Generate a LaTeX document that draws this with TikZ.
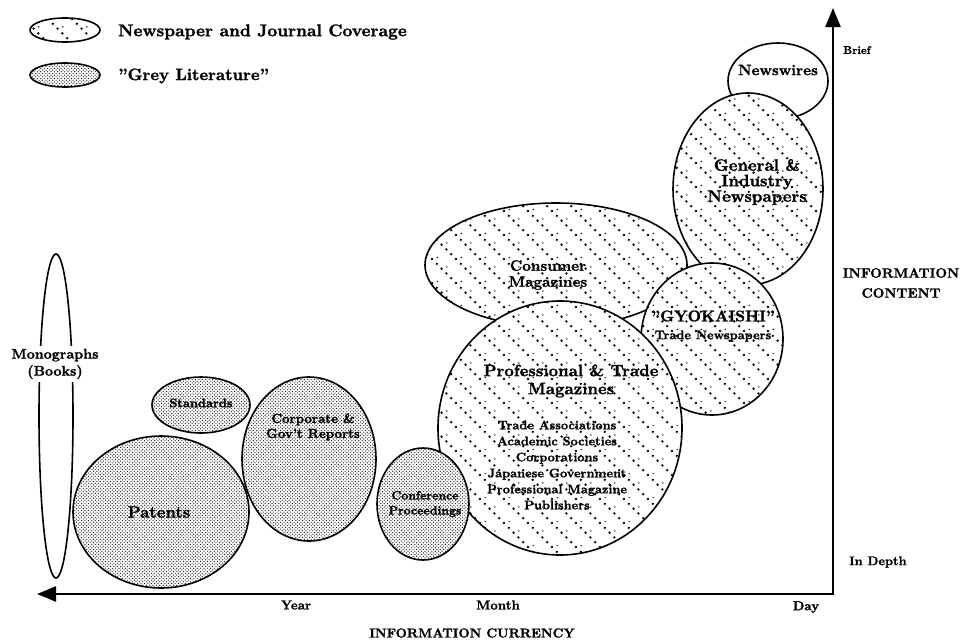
\documentclass[tikz,border=0pt]{standalone}
\usepackage{fontspec}
\setmainfont{lmroman10-regular.otf}[BoldFont=lmroman10-bold.otf, BoldFeatures={FakeBold=1.3}]
\usetikzlibrary{shapes.geometric,patterns,arrows.meta}

\pgfdeclarepatternformonly{newsdots}{\pgfqpoint{-2pt}{-2pt}}{\pgfqpoint{26pt}{26pt}}{\pgfqpoint{24pt}{24pt}}{%
  \foreach \k in {0,...,4}{%
    \pgfpathcircle{\pgfpoint{4.8*\k pt}{24pt-4.8*\k pt}}{1.3pt}%
  }%
  \foreach \k in {0,2}{%
    \pgfpathcircle{\pgfpoint{4.8*\k pt+5.2pt}{24pt-4.8*\k pt+1.6pt}}{0.8pt}%
  }%
  \pgfusepath{fill}}
\pgfdeclarepatternformonly{greydots}{\pgfqpoint{-1pt}{-1pt}}{\pgfqpoint{4.4pt}{4.4pt}}{\pgfqpoint{3.4pt}{3.4pt}}{%
  \pgfpathcircle{\pgfqpoint{0pt}{0pt}}{0.6pt}%
  \pgfpathcircle{\pgfqpoint{1.7pt}{1.7pt}}{0.6pt}%
  \pgfusepath{fill}}

\begin{document}
\begin{tikzpicture}[x=1pt, y=-1pt, >={Triangle[length=19pt,width=15pt]},
   blob/.style={ellipse, draw, line width=1.6pt, inner sep=0pt},
   news/.style={blob, pattern=newsdots, preaction={fill=white}},
   grey/.style={blob, pattern=greydots, preaction={fill=white}},
   plain/.style={blob, fill=white},
   txt/.style={font=\bfseries, align=center, inner sep=1pt}]
   \useasboundingbox (0,0) rectangle (965,643);
   \node[news, minimum width=70, minimum height=24] (key_news) at (65,30) {};
   \node[grey, minimum width=70, minimum height=24] (key_grey) at (65,75) {};
   \node[txt, anchor=west, font=\bfseries\fontsize{17}{19}\selectfont] (key_news_txt) at (117,32) {Newspaper and Journal Coverage};
   \node[txt, anchor=west, font=\bfseries\fontsize{16.5}{19}\selectfont] (key_grey_txt) at (117,76) {"Grey Literature"};

   \node[plain, minimum width=34, minimum height=324] (mono) at (56,416) {};
   \node[txt, fill=white, inner sep=3pt, font=\bfseries\fontsize{14}{17}\selectfont] (mono_txt) at (55,364) {Monographs\\(Books)};

   \node[plain, minimum width=100, minimum height=76] (wires) at (778,81) {};
   \node[news, minimum width=150, minimum height=192] (general) at (748,189) {};
   \node[news, minimum width=262, minimum height=124] (consumer) at (556,265) {};
   \node[news, minimum width=142, minimum height=152] (gyokaishi) at (712,339) {};
   \node[news, minimum width=244, minimum height=254] (prof) at (560,428) {};

   \node[grey, minimum width=98, minimum height=56] (standards) at (201,405) {};
   \node[grey, minimum width=176, minimum height=152] (patents) at (161,512) {};
   \node[grey, minimum width=134, minimum height=164] (corporate) at (309,459) {};
   \node[grey, minimum width=92, minimum height=112] (conference) at (423,504) {};

   \node[txt, font=\bfseries\fontsize{15}{16}\selectfont] (wires_txt) at (778,70) {Newswires};
   \node[txt, font=\bfseries\fontsize{16.5}{15.5}\selectfont] (general_txt) at (757,182) {General \&\\Industry\\Newspapers};
   \node[txt, font=\bfseries\fontsize{15}{16}\selectfont] (consumer_txt) at (548,275) {Consumer\\Magazines};
   \node[txt, font=\bfseries\fontsize{15.5}{16}\selectfont] (gyokaishi_txt) at (713,316) {"GYOKAISHI"};
   \node[txt, font=\bfseries\fontsize{12.5}{14}\selectfont] (gyokaishi_sub) at (713,336) {Trade Newspapers};
   \node[txt, font=\bfseries\fontsize{16.5}{18}\selectfont] (prof_txt) at (571,381) {Professional \& Trade\\Magazines};
   \node[txt, font=\bfseries\fontsize{12.5}{16}\selectfont] (prof_list) at (557,465) {Trade Associations\\Academic Societies\\Corporations\\Japanese Government\\Professional Magazine\\Publishers};
   \node[txt, font=\bfseries\fontsize{12.5}{15}\selectfont] (standards_txt) at (201,403) {Standards};
   \node[txt, font=\bfseries\fontsize{16.5}{17}\selectfont] (patents_txt) at (159,512) {Patents};
   \node[txt, font=\bfseries\fontsize{13}{15}\selectfont] (corporate_txt) at (313,427) {Corporate \&\\Gov't Reports};
   \node[txt, font=\bfseries\fontsize{12}{15}\selectfont] (conference_txt) at (425,504) {Conference\\Proceedings};

   \coordinate (origin) at (833,594);
   \coordinate (x_end) at (37,594);
   \coordinate (y_end) at (833,8);
   \draw[<->, line width=2.5pt] (x_end) -- (origin) -- (y_end);

   \node[txt, anchor=west, font=\bfseries\fontsize{11}{13}\selectfont] (brief) at (842,50) {Brief};
   \node[txt, anchor=west, font=\bfseries\fontsize{12.5}{14}\selectfont] (depth) at (848,562) {In Depth};
   \node[txt, font=\bfseries\fontsize{13.5}{20}\selectfont] (content) at (901,283) {INFORMATION\\CONTENT};
   \node[txt, font=\bfseries\fontsize{13}{15}\selectfont] (year) at (296,605) {Year};
   \node[txt, font=\bfseries\fontsize{13}{15}\selectfont] (month) at (498,605) {Month};
   \node[txt, font=\bfseries\fontsize{13}{15}\selectfont] (day) at (806,607) {Day};
   \node[txt, font=\bfseries\fontsize{13}{15}\selectfont] (currency) at (472,633) {INFORMATION CURRENCY};
\end{tikzpicture}
\end{document}
